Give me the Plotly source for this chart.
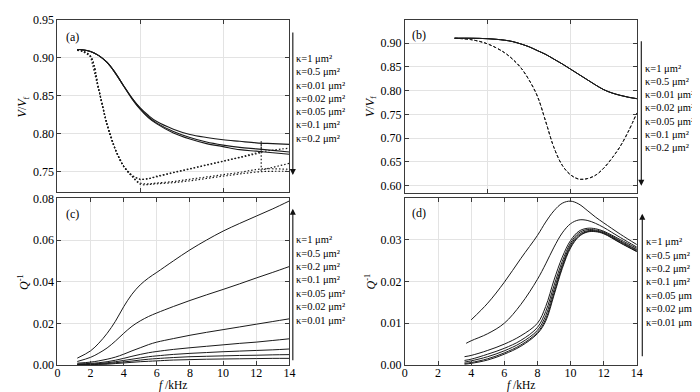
import plotly.graph_objects as go

W, H = 700, 392
FONT = "Liberation Serif, Times New Roman, Times, serif"

# ---------------- data ----------------
kappa_labels_top = ["1", "0.5", "0.01", "0.02", "0.05", "0.1", "0.2"]
kappa_labels_bot = ["1", "0.5", "0.2", "0.1", "0.05", "0.02", "0.01"]

# panel (a): V/Vf, solid lines
f_a = [1.2, 1.5, 2.0, 2.5, 3.0, 3.5, 4.0, 4.5, 5.0, 5.5, 6.0, 7.0, 8.0, 9.0, 10.0, 11.0, 12.0, 13.0, 14.0]
v_a_s1 = [0.911, 0.9108, 0.9085, 0.903, 0.894, 0.880, 0.863, 0.847, 0.834, 0.824, 0.816, 0.806, 0.799, 0.795, 0.792, 0.790, 0.788, 0.787, 0.786]
v_a_s2 = [0.911, 0.9108, 0.9085, 0.903, 0.894, 0.880, 0.863, 0.847, 0.833, 0.822, 0.814, 0.803, 0.795, 0.789, 0.785, 0.782, 0.780, 0.778, 0.776]
v_a_s3 = [0.911, 0.9108, 0.9085, 0.903, 0.894, 0.880, 0.863, 0.846, 0.832, 0.821, 0.813, 0.801, 0.793, 0.787, 0.783, 0.779, 0.777, 0.775, 0.773]

# panel (a): dotted lines
f_a_dot = [1.2, 1.5, 2.0, 2.5, 3.0, 3.5, 4.0, 4.5, 5.0, 5.5, 6.0, 7.0, 8.0, 9.0, 10.0, 11.0, 12.3, 14.0]
v_a_d1 = [0.910, 0.909, 0.902, 0.858, 0.812, 0.779, 0.757, 0.745, 0.740, 0.741, 0.744, 0.749, 0.754, 0.759, 0.764, 0.769, 0.776, 0.781]
v_a_d3 = [0.910, 0.909, 0.902, 0.858, 0.812, 0.779, 0.757, 0.744, 0.735, 0.734, 0.735, 0.737, 0.740, 0.743, 0.746, 0.749, 0.7535, 0.753]
v_a_d4 = [0.910, 0.909, 0.902, 0.858, 0.812, 0.779, 0.757, 0.744, 0.7335, 0.733, 0.734, 0.7355, 0.738, 0.741, 0.744, 0.747, 0.750, 0.7505]
f_a_dot2 = [1.2, 1.5, 2.0, 2.5, 3.0, 3.5, 4.0, 4.5, 5.0, 5.5, 6.0, 7.0, 8.0, 9.0, 10.0, 11.0, 12.3, 12.3, 12.3, 14.0]
v_a_d2 = [0.910, 0.909, 0.902, 0.858, 0.812, 0.779, 0.757, 0.745, 0.7395, 0.7405, 0.7435, 0.7485, 0.7535, 0.7585, 0.7635, 0.7685, 0.775, 0.790, 0.752, 0.761]

# panel (b)
f_b = [3, 4, 5, 6, 6.5, 7, 7.5, 8, 8.5, 9, 9.5, 10, 10.5, 11, 11.5, 12, 12.5, 13, 13.5, 14]
v_b_solid = [0.910, 0.910, 0.909, 0.906, 0.903, 0.898, 0.892, 0.884, 0.876, 0.866, 0.856, 0.845, 0.834, 0.823, 0.812, 0.802, 0.795, 0.790, 0.786, 0.783]
v_b_dash = [0.910, 0.907, 0.898, 0.880, 0.866, 0.848, 0.822, 0.788, 0.735, 0.680, 0.643, 0.623, 0.614, 0.615, 0.622, 0.637, 0.658, 0.683, 0.715, 0.753]

# panel (c)
f_c = [1.2, 2, 2.5, 3, 3.5, 4, 4.5, 5, 5.5, 6, 7, 8, 9, 10, 11, 12, 13, 14]
q_c_1 = [0.0033, 0.0068, 0.0105, 0.0152, 0.021, 0.028, 0.034, 0.0385, 0.0418, 0.0445, 0.050, 0.0553, 0.060, 0.0643, 0.068, 0.0715, 0.075, 0.0788]
q_c_05 = [0.0017, 0.0037, 0.0057, 0.0082, 0.0115, 0.0152, 0.0186, 0.0212, 0.0233, 0.0250, 0.0281, 0.031, 0.0337, 0.0363, 0.039, 0.0418, 0.0445, 0.0473]
q_c_02 = [0.0009, 0.0014, 0.0020, 0.0028, 0.0038, 0.0052, 0.0068, 0.0083, 0.0098, 0.0110, 0.0127, 0.0143, 0.0157, 0.017, 0.0183, 0.0196, 0.0209, 0.0222]
q_c_01 = [0.0005, 0.0008, 0.0011, 0.0016, 0.0023, 0.0032, 0.0042, 0.0051, 0.0059, 0.0065, 0.0075, 0.0083, 0.009, 0.0097, 0.0104, 0.011, 0.0118, 0.0126]
q_c_005 = [0.0003, 0.0005, 0.0007, 0.0011, 0.0016, 0.0022, 0.0028, 0.0034, 0.0040, 0.0044, 0.0051, 0.0056, 0.0060, 0.0064, 0.0067, 0.0070, 0.0073, 0.0077]
q_c_002 = [0.0002, 0.0003, 0.0005, 0.0007, 0.0011, 0.0015, 0.0019, 0.0024, 0.0028, 0.0031, 0.0036, 0.0040, 0.0042, 0.0044, 0.0046, 0.0047, 0.0049, 0.0050]
q_c_001 = [0.0001, 0.0002, 0.0003, 0.0004, 0.0007, 0.0010, 0.0013, 0.0016, 0.0018, 0.0020, 0.0024, 0.0026, 0.0028, 0.0029, 0.0030, 0.0031, 0.0032, 0.0032]

# panel (d)
f_d_1 = [4, 5, 6, 7, 8, 8.5, 9, 9.5, 10, 10.5, 11, 11.5, 12, 13, 14]
q_d_1 = [0.0108, 0.0148, 0.0198, 0.0255, 0.0310, 0.0342, 0.0369, 0.0387, 0.0392, 0.0385, 0.0370, 0.0354, 0.0340, 0.0313, 0.0288]
f_d_05 = [3.7, 4, 5, 6, 7, 8, 8.5, 9, 9.5, 10, 10.5, 11, 11.5, 12, 13, 14]
q_d_05 = [0.0052, 0.0058, 0.0075, 0.0100, 0.0145, 0.0205, 0.0242, 0.0282, 0.0316, 0.0338, 0.0347, 0.0346, 0.0339, 0.0329, 0.0305, 0.0282]
f_d = [3.6, 4, 5, 6, 7, 8, 8.5, 9, 9.5, 10, 10.5, 11, 11.5, 12, 13, 14]
q_d_02 = [0.0020, 0.0023, 0.0035, 0.0050, 0.0070, 0.0100, 0.0140, 0.0203, 0.0258, 0.0298, 0.0320, 0.0327, 0.0326, 0.0320, 0.0300, 0.0279]
q_d_01 = [0.0011, 0.0014, 0.0026, 0.0040, 0.0059, 0.0090, 0.0128, 0.0190, 0.0248, 0.0292, 0.0316, 0.0324, 0.0323, 0.0318, 0.0297, 0.0276]
q_d_005 = [0.0007, 0.0010, 0.0020, 0.0034, 0.0053, 0.0083, 0.0118, 0.0180, 0.0240, 0.0287, 0.0312, 0.0321, 0.0321, 0.0316, 0.0295, 0.0274]
q_d_002 = [0.0004, 0.0006, 0.0015, 0.0029, 0.0048, 0.0078, 0.0110, 0.0172, 0.0235, 0.0283, 0.0309, 0.0319, 0.0320, 0.0315, 0.0293, 0.0272]
q_d_001 = [0.0002, 0.0004, 0.0012, 0.0026, 0.0045, 0.0075, 0.0105, 0.0167, 0.0231, 0.0280, 0.0307, 0.0318, 0.0319, 0.0314, 0.0292, 0.0271]

# ---------------- figure ----------------
fig = go.Figure()
LC = "#1a1a1a"


def add(x, y, xa, ya, dash="solid", width=1.0, shape="spline"):
    line = dict(color=LC, width=width, dash=dash, shape=shape)
    if shape == "spline":
        line["smoothing"] = 1.0
    fig.add_trace(go.Scatter(x=x, y=y, xaxis=xa, yaxis=ya, mode="lines", line=line,
                             showlegend=False, hoverinfo="skip"))


DOT = "1.5px,2px"
for v in (v_a_s1, v_a_s2, v_a_s3):
    add(f_a, v, "x", "y", width=1.1)
for v in (v_a_d1, v_a_d3, v_a_d4):
    add(f_a_dot, v, "x", "y", dash=DOT, width=1.2)
add(f_a_dot2, v_a_d2, "x", "y", dash=DOT, width=1.2, shape="linear")

for _ in range(3):
    add(f_b, v_b_solid, "x2", "y2", width=1.0)
for _ in range(2):
    add(f_b, v_b_dash, "x2", "y2", dash="3px,2px", width=1.0)

for q in (q_c_1, q_c_05, q_c_02, q_c_01, q_c_005, q_c_002, q_c_001):
    add(f_c, q, "x3", "y3", width=1.0)

add(f_d_1, q_d_1, "x4", "y4", width=1.0)
add(f_d_05, q_d_05, "x4", "y4", width=1.0)
for q in (q_d_02, q_d_01, q_d_005, q_d_002, q_d_001):
    add(f_d, q, "x4", "y4", width=1.0)


def px_x(px):
    return px / W


def px_y(py):
    return 1 - py / H


AX = dict(showline=True, linecolor="#3a3a3a", linewidth=1, mirror="ticks",
          ticks="inside", ticklen=4, tickcolor="#3a3a3a", showgrid=True,
          gridcolor="#e3e3e3", gridwidth=1, zeroline=False,
          tickfont=dict(family=FONT, size=12, color="black"))

dom_left = [px_x(47), px_x(282)]
dom_right = [px_x(399), px_x(634)]
dom_top_a = [px_y(184), px_y(5)]
dom_top_b = [px_y(185), px_y(5)]
dom_bot = [px_y(363), px_y(190)]

fig.update_layout(
    width=W, height=H, margin=dict(l=0, r=0, t=0, b=0),
    paper_bgcolor="white", plot_bgcolor="white",
    font=dict(family=FONT, color="black"),
    xaxis=dict(AX, domain=dom_left, anchor="y", range=[0, 14], tickvals=[0, 5, 10], showticklabels=False),
    yaxis=dict(AX, domain=dom_top_a, anchor="x", range=[0.7226, 0.9502],
               tickvals=[0.75, 0.80, 0.85, 0.90, 0.95], tickformat=".2f"),
    xaxis2=dict(AX, domain=dom_right, anchor="y2", range=[0, 14], tickvals=[0, 5, 10], showticklabels=False),
    yaxis2=dict(AX, domain=dom_top_b, anchor="x2", range=[0.584, 0.9487],
                tickvals=[0.60, 0.65, 0.70, 0.75, 0.80, 0.85, 0.90], tickformat=".2f"),
    xaxis3=dict(AX, domain=dom_left, anchor="y3", range=[0, 14], tickvals=list(range(0, 15, 2)),
                ticklabelstandoff=-3),
    yaxis3=dict(AX, domain=dom_bot, anchor="x3", range=[0, 0.0801],
                tickvals=[0, 0.02, 0.04, 0.06, 0.08], tickformat=".2f"),
    xaxis4=dict(AX, domain=dom_right, anchor="y4", range=[0, 14], tickvals=list(range(0, 15, 2)),
                ticklabelstandoff=-3),
    yaxis4=dict(AX, domain=dom_bot, anchor="x4", range=[0, 0.0399],
                tickvals=[0, 0.01, 0.02, 0.03], tickformat=".2f"),
)

ann = []


def text(x, y, s, size=12, angle=0, xanchor="center", yanchor="middle"):
    ann.append(dict(x=px_x(x), y=px_y(y), xref="paper", yref="paper", text=s,
                    showarrow=False, xanchor=xanchor, yanchor=yanchor, textangle=angle,
                    borderpad=0, font=dict(family=FONT, size=size, color="black")))


def arrow(x, y_tail, y_head):
    ann.append(dict(x=px_x(x), y=px_y(y_head), xref="paper", yref="paper",
                    ax=0, ay=y_tail - y_head, axref="pixel", ayref="pixel", text="",
                    showarrow=True, arrowhead=2, arrowsize=1.1, arrowwidth=1.1,
                    arrowcolor="#111"))


# panel labels
text(62, 23, "(a)")
text(413, 21, "(b)")
text(62, 206, "(c)")
text(413, 205, "(d)")

# axis titles
text(12, 95, "<i>V</i>/<i>V</i><sub>f</sub>", angle=-90)
text(364, 95, "<i>V</i>/<i>V</i><sub>f</sub>", angle=-90)
text(12, 277, "<i>Q</i><sup>-1</sup>", angle=-90)
text(364, 276, "<i>Q</i><sup>-1</sup>", angle=-90)
text(164, 392, "<i>f</i> /kHz", size=11.5, yanchor="bottom")
text(517, 392, "<i>f</i> /kHz", size=11.5, yanchor="bottom")

# kappa legends
LS = 10.5
for i, k in enumerate(kappa_labels_top):
    text(288, 45 + i * 13.8, "κ=" + k + " μm²", size=LS, xanchor="left")
    text(641, 55 + i * 13.8, "κ=" + k + " μm²", size=LS, xanchor="left")
for i, k in enumerate(kappa_labels_bot):
    text(288, 233 + i * 13.9, "κ=" + k + " μm²", size=LS, xanchor="left")
    text(642, 235 + i * 13.9, "κ=" + k + " μm²", size=LS, xanchor="left")

arrow(285.5, 22, 166)
arrow(638.5, 31, 177)
arrow(285.5, 354, 201)
arrow(639.5, 350, 206)

fig.update_layout(annotations=ann)
fig.write_html("out.html")
